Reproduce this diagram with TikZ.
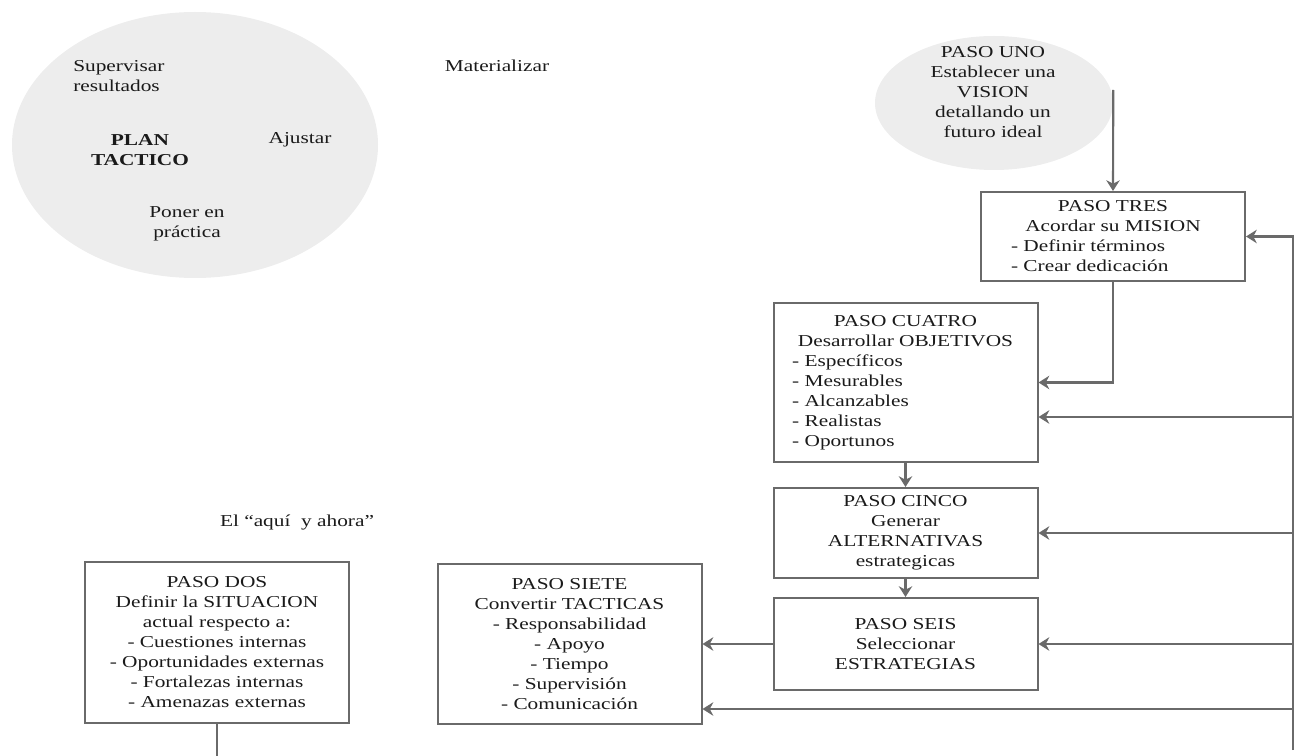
\documentclass[tikz,border=0pt]{standalone}
\usepackage{fontspec}
\setmainfont{Liberation Serif}[FakeStretch=1.28]
\usetikzlibrary{shapes.geometric,arrows.meta}
\definecolor{ln}{HTML}{6A6A6A}
\definecolor{fillg}{HTML}{EDEDED}
\definecolor{tx}{HTML}{1A1A1A}
\newcommand\lbox[2]{\makebox[#1][l]{#2}}
\begin{document}
\begin{tikzpicture}[x=0.75pt,y=-0.75pt,
  font=\fontsize{12.5}{15}\selectfont, text=tx,
  stepbox/.style={draw=ln, line width=1.5pt, rectangle, inner sep=0pt, align=center, minimum width=198pt},
  oval/.style={ellipse, fill=fillg, draw=none, inner sep=0pt},
  lbl/.style={inner sep=0pt, align=center},
  conn/.style={draw=ln, line width=1.6pt},
  arr/.style={conn, -{Stealth[length=8pt,width=10pt,inset=2.5pt]}}]
\useasboundingbox (0,0) rectangle (1296,756);

% ellipses
\node[oval, minimum width=274.5pt, minimum height=199.5pt] (plan) at (195,145) {};
\node[oval, minimum width=178.5pt, minimum height=100.5pt] (uno) at (994,103) {};

% texts inside the plan ellipse
\node[lbl, align=left, anchor=west] (sup) at (73,76.5) {Supervisar\\resultados};
\node[lbl, font=\fontsize{12.5}{15}\selectfont\bfseries] (plantxt) at (140,150) {PLAN\\TACTICO};
\node[lbl] (aju) at (300,140) {Ajustar};
\node[lbl] (pon) at (187,223.5) {Poner en\\práctica};
\node[lbl] (mat) at (497,66) {Materializar};
\node[lbl] (aqui) at (297,523) {El “aquí\ \ y ahora”};

% paso uno text
\node[lbl] (unotxt) at (993,92) {PASO UNO\\Establecer una\\VISION\\detallando un\\futuro ideal};

% boxes
\node[stepbox, minimum height=66.75pt] (tres) at (1113,236.5)
  {PASO TRES\\Acordar su MISION\\\lbox{153pt}{- Definir términos}\\\lbox{153pt}{- Crear dedicación}};
\node[stepbox, minimum height=119.25pt] (cuatro) at (905.5,382.5)
  {PASO CUATRO\\Desarrollar OBJETIVOS\\\lbox{170pt}{- Específicos}\\\lbox{170pt}{- Mesurables}\\\lbox{170pt}{- Alcanzables}\\\lbox{170pt}{- Realistas}\\\lbox{170pt}{- Oportunos}};
\node[stepbox, minimum height=67.5pt] (cinco) at (905.5,533)
  {PASO CINCO\\Generar\\ALTERNATIVAS\\estrategicas};
\node[stepbox, minimum height=69pt] (seis) at (905.5,644)
  {PASO SEIS\\Seleccionar\\ESTRATEGIAS};
\node[stepbox, minimum height=120pt] (siete) at (569.5,644)
  {PASO SIETE\\Convertir TACTICAS\\- Responsabilidad\\- Apoyo\\- Tiempo\\- Supervisión\\- Comunicación};
\node[stepbox, minimum height=120.75pt] (dos) at (217,642.5)
  {PASO DOS\\Definir la SITUACION\\actual respecto a:\\- Cuestiones internas\\- Oportunidades externas\\- Fortalezas internas\\- Amenazas externas};

% connectors
\draw[arr] ([yshift=9.75pt]uno.east) -- (tres.north);
\draw[arr] (tres.south) |- (cuatro.east);
\draw[arr] (cuatro.south) -- (cinco.north);
\draw[arr] (cinco.south) -- (seis.north);
\draw[arr] (seis.west) -- (siete.east);

\coordinate (rbot) at (1293,750);
\coordinate (r4) at (1293,417);
\coordinate (r7) at (1293,709);
\draw[arr] (rbot) |- (tres.east);
\draw[arr] (r4) -- (r4 -| cuatro.east);
\draw[arr] (rbot |- cinco.east) -- (cinco.east);
\draw[arr] (rbot |- seis.east) -- (seis.east);
\draw[arr] (r7) -- (r7 -| siete.east);

\coordinate (dend) at (217,756);
\draw[conn] (dos.south) -- (dend);
\end{tikzpicture}
\end{document}
